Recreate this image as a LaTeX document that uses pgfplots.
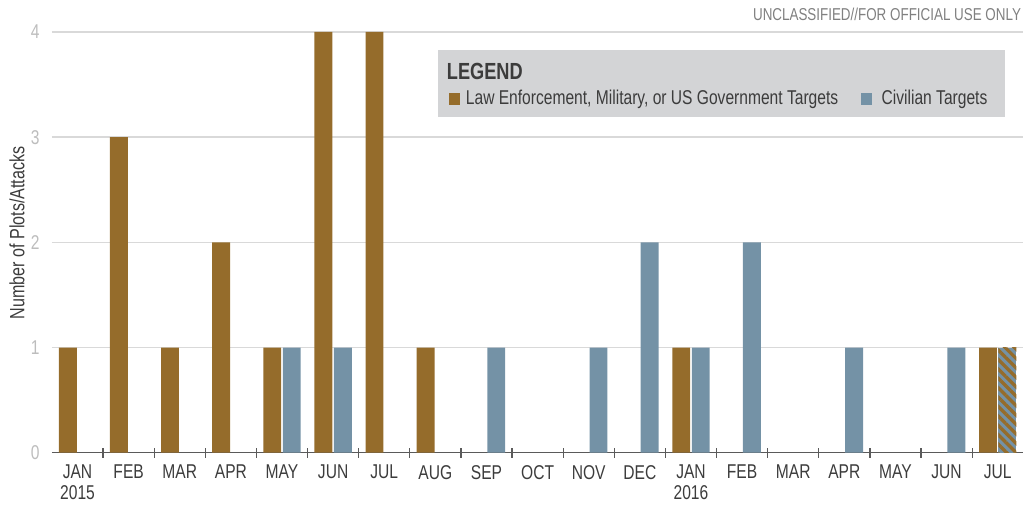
\documentclass[border=0pt]{standalone}
\usepackage{pgfplots}
\pgfplotsset{compat=1.18}
\usetikzlibrary{patterns.meta}
\usepackage{fontspec}
\setmainfont[FakeStretch=0.78]{Liberation Sans}
\definecolor{le}{HTML}{956C2B}
\definecolor{civ}{HTML}{7492A6}
\definecolor{legbg}{HTML}{D3D4D6}
\definecolor{gridc}{HTML}{D9D9D9}
\definecolor{axc}{HTML}{5A5A5A}
\definecolor{txt}{HTML}{3C3C3C}
\definecolor{ytk}{HTML}{BDBDBD}
\begin{document}
\begin{tikzpicture}
\begin{scope}[x=0.75pt,y=-0.75pt,shift={(-39pt,339.75pt)}]
\useasboundingbox (0,0) rectangle (1024,511);
\end{scope}
\begin{axis}[
  scale only axis,
  width=729pt, height=315.75pt,
  xmin=-0.5, xmax=18.5, ymin=0, ymax=4,
  axis y line*=left, axis x line*=bottom,
  y axis line style={draw=none},
  x axis line style={draw=axc, line width=1.1pt, -},
  ytick={0,1,2,3,4},
  ymajorgrids, grid style={draw=gridc, line width=1.1pt},
  major y tick style={draw=none},
  xtick={0,...,18},
  xticklabels={{JAN\\2015},FEB,MAR,APR,MAY,JUN,JUL,AUG,SEP,OCT,NOV,DEC,{JAN\\2016},FEB,MAR,APR,MAY,JUN,JUL},
  major x tick style={draw=none},
  minor xtick={0.5,1.5,...,17.5},
  minor tick length=7.5pt,
  tick align=center,
  minor x tick style={draw=axc, line width=0.9pt},
  x tick label style={font=\fontsize{15}{15.5}\selectfont, text=txt, align=center, inner sep=0pt, yshift=-7pt},
  y tick label style={font=\fontsize{15}{15}\selectfont, text=ytk, inner sep=0pt, xshift=-7pt},
  /pgf/number format/assume math mode=true,
  clip=false,
]
\addplot[ybar, bar width=0.35, bar shift=-0.19, fill=le, draw=none] coordinates {
(0,1) (1,3) (2,1) (3,2) (4,1) (5,4) (6,4) (7,1) (12,1) (18,1)};
\addplot[ybar, bar width=0.35, bar shift=0.19, fill=civ, draw=none] coordinates {
(4,1) (5,1) (8,1) (10,1) (11,2) (12,1) (13,2) (15,1) (17,1)};
\addplot[ybar, bar width=0.35, bar shift=0.19, fill=civ, draw=none,
  postaction={pattern={Lines[angle=-45,distance=5pt,line width=2.5pt]}, pattern color=le}] coordinates {
(18,1)};
\end{axis}
\begin{scope}[x=0.75pt,y=-0.75pt,shift={(-39pt,339.75pt)}]
\node[rotate=90, inner sep=0pt, font=\fontsize{15.5}{16}\selectfont, text=txt] at (17,233) {Number of Plots/Attacks};
\fill[legbg] (438,50) rectangle (1006,117);
\node[anchor=base west, inner sep=0pt, font=\fontsize{17.5}{19}\selectfont\bfseries, text=txt] at (447,80) {LEGEND};
\fill[le] (449,93) rectangle (460,105);
\node[anchor=base west, inner sep=0pt, font=\fontsize{15}{16}\selectfont, text=txt] at (466,105) {Law Enforcement, Military, or US Government Targets};
\fill[civ] (862,93) rectangle (873,105);
\node[anchor=base west, inner sep=0pt, font=\fontsize{15}{16}\selectfont, text=txt] at (882,105) {Civilian Targets};
\node[anchor=base east, inner sep=0pt, font=\fontsize{12.9}{14}\selectfont, text=gray] at (1022,21) {UNCLASSIFIED//FOR OFFICIAL USE ONLY};
\end{scope}
\end{tikzpicture}
\end{document}
